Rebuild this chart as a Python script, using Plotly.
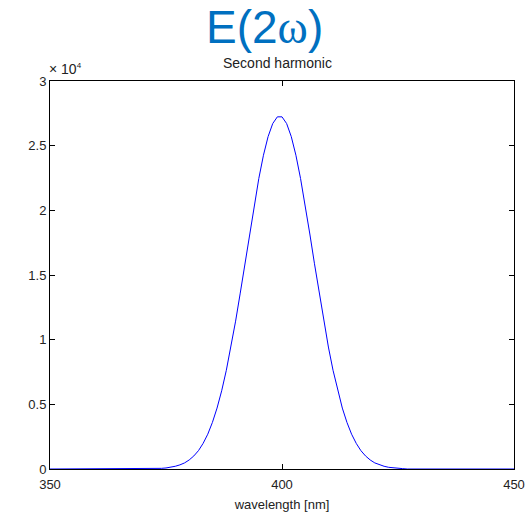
import plotly.graph_objects as go

# Data (wavelength in nm, field amplitude)
wavelength = list(range(350, 451))
left_tail = [0.0] * 23  # 350..372
rise = [0.003, 0.005, 0.008, 0.013, 0.021, 0.032, 0.047, 0.070, 0.101, 0.142,
        0.198, 0.269, 0.360, 0.471, 0.605, 0.763, 0.943, 1.143, 1.360, 1.587,
        1.817, 2.039, 2.246, 2.426, 2.570, 2.671, 2.723]  # 373..399
fall = [2.723, 2.671, 2.570, 2.426, 2.246, 2.039, 1.817, 1.587, 1.360, 1.143,
        0.943, 0.763, 0.605, 0.471, 0.360, 0.269, 0.198, 0.142, 0.101, 0.070,
        0.047, 0.032, 0.021, 0.013, 0.008, 0.005, 0.003]  # 400..426
right_tail = [0.0] * 24  # 427..450
amplitude = [v * 1e4 for v in left_tail + rise + fall + right_tail]

x_ticks = [350, 400, 450]
y_tickvals = [0, 5000, 10000, 15000, 20000, 25000, 30000]
y_ticktext = ["0", "0.5", "1", "1.5", "2", "2.5", "3"]

FONT = "Liberation Sans, Arial, Helvetica, sans-serif"
W, H = 529, 520
L, R, T, B = 50, 15, 81, 51
PW, PH = W - L - R, H - T - B


def px_to_paper(px, py):
    return (px - L) / PW, (H - B - py) / PH


fig = go.Figure()
fig.add_trace(go.Scatter(x=wavelength, y=amplitude, mode="lines",
                         line=dict(color="rgb(0,0,255)", width=1),
                         showlegend=False, hoverinfo="skip"))

axis_common = dict(showline=True, linecolor="black", linewidth=1, mirror="ticks",
                   ticks="inside", ticklen=5, tickcolor="black", tickwidth=1,
                   showgrid=False, zeroline=False,
                   tickfont=dict(family=FONT, size=13, color="#222"))

fig.update_xaxes(range=[350, 450], tickvals=x_ticks, ticklabelstandoff=3,
                 title=dict(text="wavelength [nm]", font=dict(family=FONT, size=13, color="#222"),
                            standoff=9),
                 **axis_common)
fig.update_yaxes(range=[0, 30000], tickvals=y_tickvals, ticktext=y_ticktext,
                 **axis_common)

ann = []
x, y = px_to_paper(264, 27)
ann.append(dict(text="E(2<span style='font-family:Liberation Serif, serif'>ω</span>)",
                x=x, y=y, xanchor="center", yanchor="middle",
                font=dict(family=FONT, size=46, color="rgb(0,112,192)")))
x, y = px_to_paper(277, 63)
ann.append(dict(text="Second harmonic", x=x, y=y, xanchor="center", yanchor="middle",
                font=dict(family=FONT, size=14, color="#222")))
x, y = px_to_paper(47, 69)
ann.append(dict(text="× 10<sup><span style='font-size:8px'>4</span></sup>",
                x=x, y=y, xanchor="left", yanchor="middle",
                font=dict(family=FONT, size=14, color="#222")))
for a in ann:
    a.update(xref="paper", yref="paper", showarrow=False)

fig.update_layout(
    width=W, height=H,
    margin=dict(l=L, r=R, t=T, b=B, autoexpand=False),
    paper_bgcolor="white", plot_bgcolor="white",
    annotations=ann,
)

fig.write_html("out.html", config={"displayModeBar": False},
               post_script="document.body.style.margin='0';document.body.style.padding='0';")
